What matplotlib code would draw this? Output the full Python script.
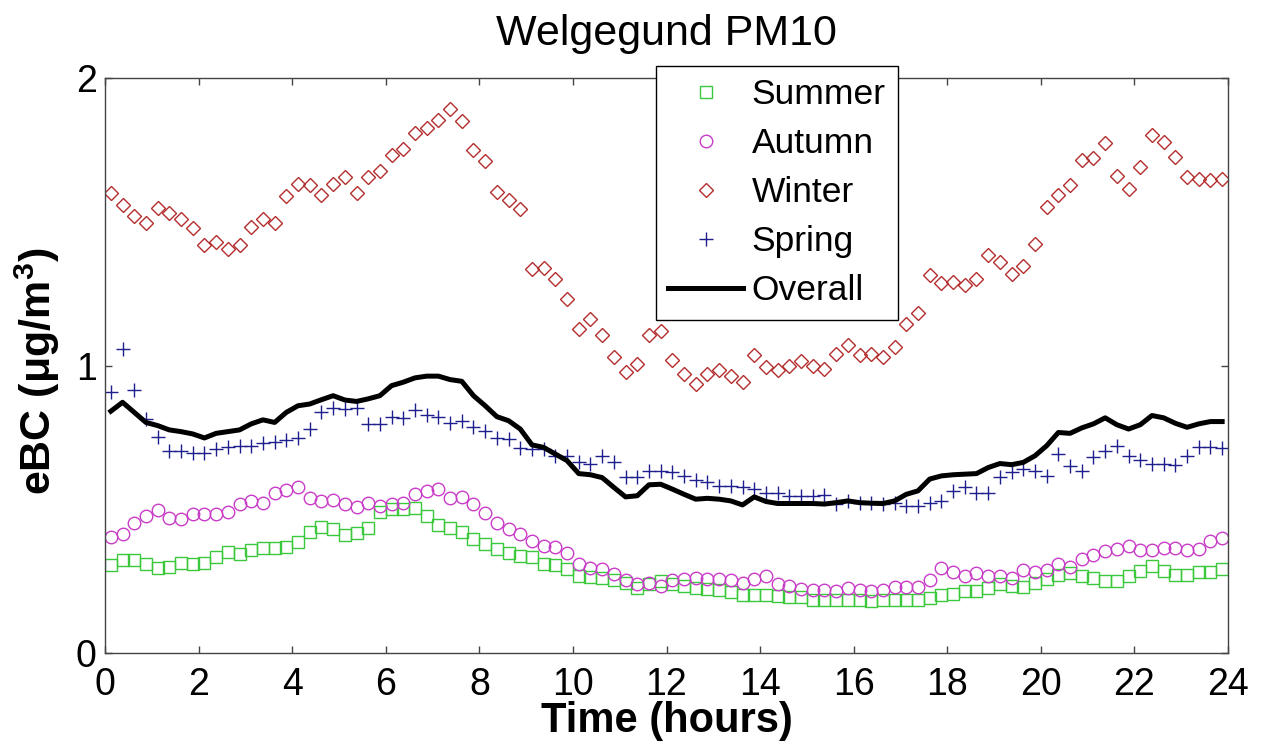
import numpy as np
import matplotlib.pyplot as plt

plt.rcParams['font.family'] = ['Liberation Sans', 'DejaVu Sans']
plt.rcParams['mathtext.fontset'] = 'custom'
plt.rcParams['mathtext.rm'] = 'Liberation Sans'
plt.rcParams['mathtext.bf'] = 'Liberation Sans:bold'
plt.rcParams['mathtext.it'] = 'Liberation Sans:italic'

# 15-minute bins, plotted at the bin middle
hours = np.arange(96) * 0.25 + 0.125

summer = [0.306, 0.322, 0.322, 0.308, 0.294, 0.300, 0.314, 0.310, 0.314, 0.334,
          0.352, 0.345, 0.357, 0.366, 0.366, 0.369, 0.387, 0.422, 0.438, 0.430,
          0.411, 0.419, 0.436, 0.492, 0.500, 0.500, 0.504, 0.477, 0.445, 0.436,
          0.422, 0.396, 0.380, 0.361, 0.349, 0.337, 0.334, 0.308, 0.306, 0.291,
          0.268, 0.264, 0.262, 0.253, 0.244, 0.227, 0.239, 0.250, 0.239, 0.233,
          0.227, 0.221, 0.218, 0.213, 0.201, 0.203, 0.201, 0.198, 0.194, 0.194,
          0.186, 0.183, 0.183, 0.186, 0.186, 0.182, 0.183, 0.183, 0.186, 0.183,
          0.190, 0.201, 0.206, 0.215, 0.215, 0.227, 0.239, 0.233, 0.229, 0.244,
          0.256, 0.271, 0.279, 0.268, 0.262, 0.250, 0.250, 0.268, 0.285, 0.302,
          0.285, 0.271, 0.271, 0.283, 0.283, 0.291]

autumn = [0.404, 0.413, 0.451, 0.477, 0.498, 0.471, 0.465, 0.485, 0.483, 0.485,
          0.492, 0.520, 0.529, 0.523, 0.558, 0.566, 0.576, 0.538, 0.529, 0.533,
          0.518, 0.508, 0.523, 0.512, 0.520, 0.523, 0.552, 0.564, 0.570, 0.538,
          0.541, 0.520, 0.488, 0.453, 0.430, 0.413, 0.390, 0.372, 0.369, 0.349,
          0.310, 0.296, 0.291, 0.276, 0.253, 0.239, 0.244, 0.233, 0.253, 0.256,
          0.262, 0.256, 0.256, 0.253, 0.244, 0.256, 0.268, 0.239, 0.233, 0.221,
          0.218, 0.218, 0.215, 0.227, 0.218, 0.215, 0.218, 0.229, 0.229, 0.229,
          0.253, 0.294, 0.283, 0.268, 0.279, 0.268, 0.268, 0.262, 0.287, 0.283,
          0.287, 0.310, 0.299, 0.326, 0.341, 0.355, 0.363, 0.372, 0.357, 0.357,
          0.366, 0.364, 0.357, 0.361, 0.390, 0.399]

winter = [1.599, 1.558, 1.521, 1.496, 1.547, 1.531, 1.509, 1.479, 1.419, 1.428,
          1.404, 1.419, 1.482, 1.508, 1.494, 1.590, 1.630, 1.628, 1.593, 1.630,
          1.657, 1.599, 1.657, 1.677, 1.732, 1.752, 1.808, 1.826, 1.855, 1.893,
          1.851, 1.750, 1.713, 1.605, 1.575, 1.543, 1.334, 1.339, 1.302, 1.230,
          1.128, 1.163, 1.105, 1.031, 0.977, 1.006, 1.105, 1.120, 1.020, 0.971,
          0.936, 0.969, 0.983, 0.965, 0.942, 1.035, 0.994, 0.985, 1.000, 1.017,
          1.000, 0.988, 1.041, 1.070, 1.035, 1.041, 1.031, 1.064, 1.145, 1.182,
          1.314, 1.287, 1.291, 1.279, 1.302, 1.384, 1.360, 1.317, 1.345, 1.424,
          1.552, 1.593, 1.628, 1.715, 1.721, 1.775, 1.659, 1.613, 1.690, 1.802,
          1.779, 1.724, 1.657, 1.650, 1.645, 1.650]

spring = [0.907, 1.058, 0.916, 0.814, 0.750, 0.704, 0.704, 0.694, 0.694, 0.709,
          0.717, 0.721, 0.721, 0.729, 0.733, 0.741, 0.748, 0.779, 0.837, 0.852,
          0.849, 0.852, 0.797, 0.797, 0.820, 0.816, 0.845, 0.829, 0.820, 0.799,
          0.808, 0.785, 0.772, 0.747, 0.744, 0.712, 0.709, 0.709, 0.686, 0.686,
          0.663, 0.657, 0.686, 0.663, 0.613, 0.613, 0.634, 0.634, 0.628, 0.616,
          0.601, 0.595, 0.581, 0.581, 0.576, 0.570, 0.558, 0.555, 0.547, 0.547,
          0.547, 0.550, 0.520, 0.529, 0.523, 0.521, 0.518, 0.523, 0.512, 0.512,
          0.523, 0.529, 0.564, 0.578, 0.555, 0.558, 0.613, 0.628, 0.640, 0.634,
          0.616, 0.692, 0.651, 0.634, 0.683, 0.704, 0.721, 0.686, 0.671, 0.657,
          0.657, 0.655, 0.686, 0.717, 0.717, 0.713]

overall = [0.841, 0.872, 0.837, 0.802, 0.791, 0.776, 0.770, 0.762, 0.748, 0.764,
           0.770, 0.776, 0.797, 0.811, 0.802, 0.837, 0.860, 0.866, 0.881, 0.895,
           0.880, 0.875, 0.884, 0.895, 0.930, 0.942, 0.957, 0.963, 0.963, 0.951,
           0.945, 0.895, 0.860, 0.822, 0.808, 0.779, 0.724, 0.715, 0.692, 0.669,
           0.624, 0.620, 0.610, 0.576, 0.543, 0.547, 0.585, 0.587, 0.570, 0.552,
           0.535, 0.538, 0.535, 0.529, 0.515, 0.543, 0.527, 0.520, 0.520, 0.520,
           0.520, 0.518, 0.523, 0.529, 0.523, 0.521, 0.520, 0.529, 0.552, 0.564,
           0.605, 0.616, 0.620, 0.622, 0.624, 0.645, 0.659, 0.655, 0.663, 0.686,
           0.721, 0.767, 0.764, 0.783, 0.797, 0.818, 0.794, 0.779, 0.794, 0.826,
           0.818, 0.799, 0.785, 0.797, 0.805, 0.805]

summer_green = np.array([60, 200, 60]) / 255
autumn_pink = np.array([200, 60, 200]) / 255
winter_red = np.array([180, 45, 45]) / 255
spring_blue = np.array([30, 30, 140]) / 255

W, H = 1264, 749
fig = plt.figure(figsize=(W / 100, H / 100), dpi=100)
ax = fig.add_axes([105 / W, 1 - 653 / H, (1228 - 105) / W, (653 - 78) / H])

mk = {"linestyle": "none", "markerfacecolor": "none", "markeredgewidth": 1.0}
ax.plot(hours, summer, marker="s", markersize=8.3, color=summer_green, label="Summer", **mk)
ax.plot(hours, autumn, marker="o", markersize=9, color=autumn_pink, label="Autumn", **mk)
ax.plot(hours, winter, marker="D", markersize=7.4, color=winter_red, label="Winter", **mk)
ax.plot(hours, spring, marker="+", markersize=9.5, color=spring_blue, label="Spring", **mk)
ax.plot(hours, overall, color="black", linewidth=3.6, label="Overall")

ax.set(xlim=[0, 24], ylim=[0, 2])
ax.set_xticks(range(0, 25, 2))
ax.set_yticks([0, 1, 2])
ax.tick_params(direction="in", top=True, right=True, length=5, width=1,
               color="#444444", labelsize=27)
ax.tick_params(axis="x", pad=10)
ax.tick_params(axis="y", pad=6)
for s in ax.spines.values():
    s.set_color("#444444")
    s.set_linewidth(1.0)

ax.set_title("Welgegund PM10", fontsize=31, y=1.057, va="baseline", pad=0)
ax.set_xlabel("Time (hours)", fontsize=30, fontweight="bold")
ax.xaxis.set_label_coords(0.5, -0.084)
ax.set_ylabel(r"eBC ($\mathbf{\mu}$g/m$^\mathbf{3}$)", fontsize=31, fontweight="bold")
ax.yaxis.set_label_coords(-0.038, 0.49)

leg = ax.legend(loc="upper left", bbox_to_anchor=(656 / W, 1 - 66 / H),
                bbox_transform=fig.transFigure, fontsize=25.5, frameon=True,
                fancybox=False, edgecolor="black", framealpha=1,
                borderpad=0.35, labelspacing=0.45, handlelength=2.1,
                handletextpad=0.25, borderaxespad=0, markerscale=1)
leg.get_frame().set_linewidth(1.0)

fig.savefig("out.png", dpi=100)
